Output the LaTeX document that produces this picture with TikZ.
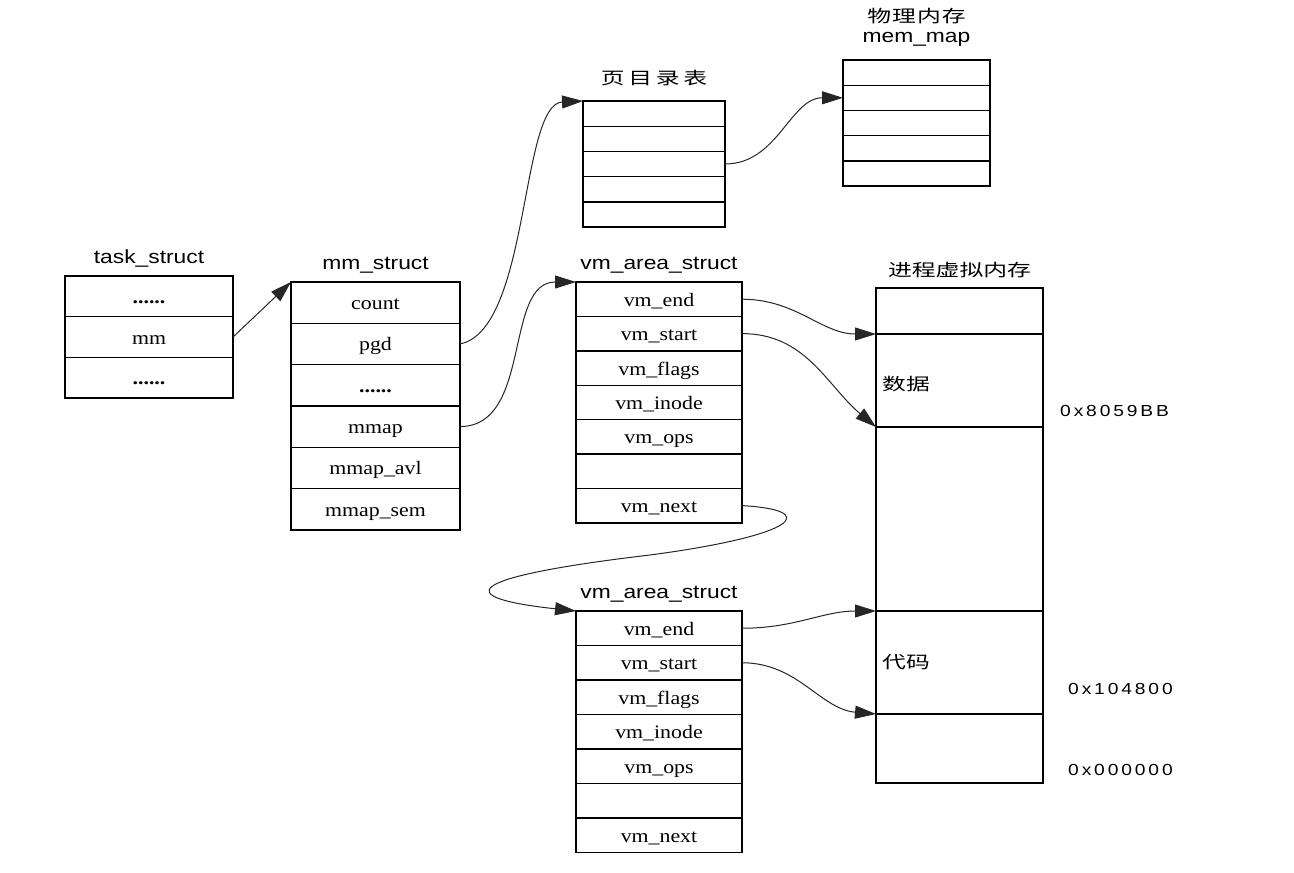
\documentclass[tikz,border=0pt]{standalone}
\usepackage{fontspec}
\usepackage{tikz}
\usetikzlibrary{arrows.meta,positioning}
\newfontfamily\fieldfont{Liberation Serif}[FakeStretch=1.15]
\newfontfamily\headfont{Liberation Sans}[FakeStretch=1.2]
\newfontfamily\cjkfont{Noto Sans CJK SC}[FakeStretch=1.4]
\newcommand\sixdots{\textbf{......}}

\begin{document}
\begin{tikzpicture}[
  x=1pt, y=-1pt,
  cell/.style={draw, line width=1.4pt, inner sep=0pt, outer sep=0pt, text height=16pt, text depth=2pt,
    font=\fieldfont\fontsize{19}{22}\selectfont},
  head/.style={inner sep=1pt, font=\headfont\fontsize{19}{22}\selectfont},
  cjkhead/.style={inner sep=1pt, font=\cjkfont\fontsize{17}{20}\selectfont},
  addr/.style={anchor=west, inner sep=0pt, font=\headfont\fontsize{16}{19}\selectfont\addfontfeature{LetterSpace=18}},
  arr/.style={-{Triangle[length=21pt,width=13pt]}, line width=1pt, black!85}
]
\useasboundingbox (0,0) rectangle (1294,873);

% task_struct
\foreach \f [count=\i] in {\sixdots, mm, \sixdots}
  \node[cell, minimum width=168pt, minimum height=40.7pt] (task\i) at (149,{276+40.7*\i-20.35}) {\f};
\node[head, above=8pt of task1] (tasktitle) {task\_struct};

% mm_struct
\foreach \f [count=\i] in {count, pgd, \sixdots, mmap, mmap\_avl, mmap\_sem}
  \node[cell, minimum width=169pt, minimum height=41.3pt] (mms\i) at (375.5,{282+41.3*\i-20.65}) {\f};
\node[head, above=8pt of mms1] (mmstitle) {mm\_struct};

% page directory and physical memory
\foreach \i in {1,2,3,4,5}
  \node[cell, minimum width=142pt, minimum height=25.2pt] (pgd\i) at (654,{101+25.2*\i-12.6}) {};
\node[cjkhead, above=14pt of pgd1, font=\cjkfont\fontsize{17}{20}\selectfont\addfontfeature{LetterSpace=22}] (pgdtitle) {页目录表};
\foreach \i in {1,2,3,4,5}
  \node[cell, minimum width=147pt, minimum height=25.2pt] (phy\i) at (916.5,{60+25.2*\i-12.6}) {};
\node[head, above=12pt of phy1] (phytitle) {mem\_map};
\node[cjkhead, above=6pt of phytitle, font=\cjkfont\fontsize{17}{20}\selectfont\addfontfeature{LetterSpace=6}] (phytitlecn) {物理内存};

% two vm_area_struct
\foreach \f [count=\i] in {vm\_end, vm\_start, vm\_flags, vm\_inode, vm\_ops, {}, vm\_next}
  \node[cell, minimum width=166pt, minimum height=34.4pt] (vma\i) at (659,{282+34.4*\i-17.2}) {\f};
\node[head, above=8pt of vma1] (vmatitle) {vm\_area\_struct};
\foreach \f [count=\i] in {vm\_end, vm\_start, vm\_flags, vm\_inode, vm\_ops, {}, vm\_next}
  \node[cell, minimum width=166pt, minimum height=34.5pt] (vmb\i) at (659,{611+34.5*\i-17.25}) {\f};
\node[head, above=8pt of vmb1] (vmbtitle) {vm\_area\_struct};

% process virtual memory
\node[cell, minimum width=167pt, minimum height=46pt] (vm1) at (959.5,311) {};
\node[cell, minimum width=167pt, minimum height=93pt, below=0pt of vm1] (vm2) {};
\node[cell, minimum width=167pt, minimum height=184pt, below=0pt of vm2] (vm3) {};
\node[cell, minimum width=167pt, minimum height=103pt, below=0pt of vm3] (vm4) {};
\node[cell, minimum width=167pt, minimum height=69pt, below=0pt of vm4] (vm5) {};
\node[cjkhead, above=9pt of vm1] (vmtitle) {进程虚拟内存};
\node[cjkhead, anchor=west] (datalbl) at (881,384) {数据};
\node[cjkhead, anchor=west] (codelbl) at (881,662) {代码};
\node[addr] (addrdata) at (1060,411) {0x8059BB};
\node[addr] (addrcode) at (1068,689) {0x104800};
\node[addr] (addrzero) at (1068,770) {0x000000};

\draw[arr] (task2.east) -- (mms1.north west);
\draw[arr] (mms2.east) .. controls (530,330) and (520,104) .. (pgd1.north west);
\draw[arr] (pgd3.east) to[out=0,in=180] (phy2.west);
\draw[arr] (mms4.east) to[out=0,in=180] (vma1.north west);
\draw[arr] (vma1.east) to[out=0,in=180] (vm1.south west);
\draw[arr] (vma2.east) to[out=0,in=140] (vm2.south west);
\draw[arr] (vma7.east) .. controls (820,510) and (800,535) .. (650,555)
  .. controls (455,578) and (455,598) .. (vmb1.north west);
\draw[arr] (vmb1.east) to[out=0,in=180] (vm4.north west);
\draw[arr] (vmb2.east) to[out=0,in=175] (vm4.south west);
\end{tikzpicture}
\end{document}
